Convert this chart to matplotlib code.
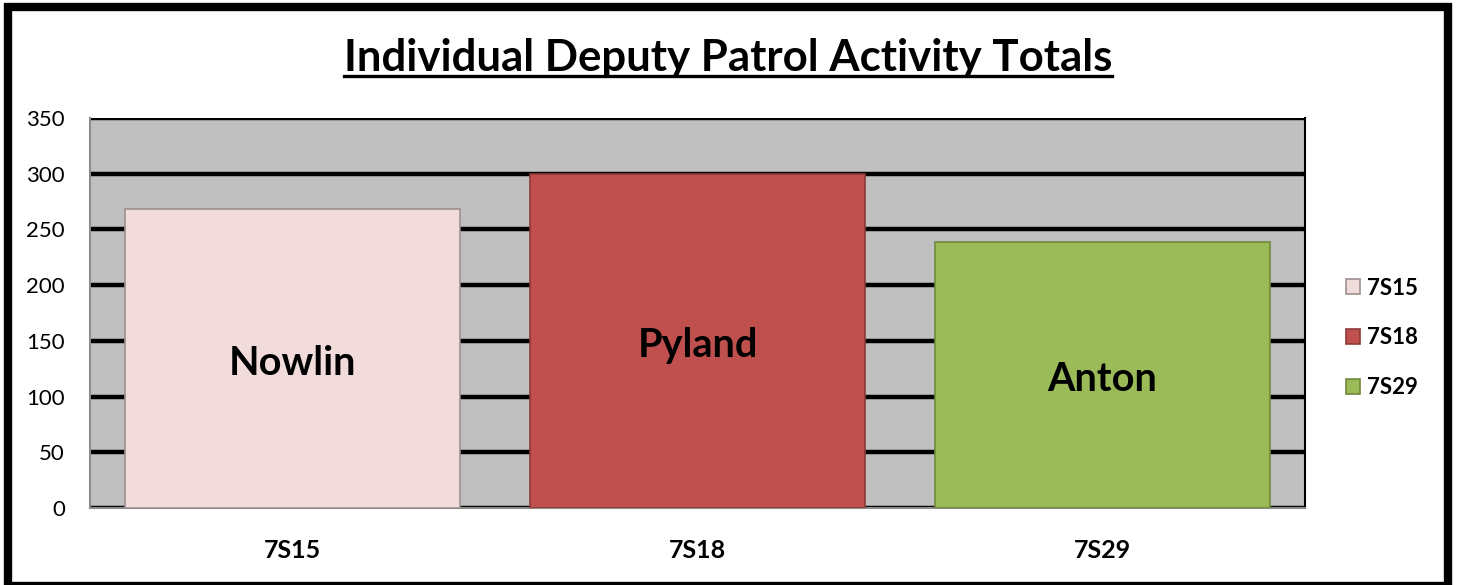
import matplotlib.pyplot as plt
from matplotlib.patches import Rectangle
from matplotlib.lines import Line2D

# data
units = ["7S15", "7S18", "7S29"]
deputies = ["Nowlin", "Pyland", "Anton"]
totals = [268, 300, 239]
fills = ["#F2DCDB", "#C0504D", "#9BBB59"]
edges = ["#9E9090", "#8E3A38", "#6F8A3C"]
yticks = [0, 50, 100, 150, 200, 250, 300, 350]

plt.rcParams['font.family'] = ['Lato', 'DejaVu Sans']

fig = plt.figure(figsize=(14.57, 5.85), dpi=100)
ax = fig.add_axes([90 / 1457, 1 - 508 / 585, 1215 / 1457, 390 / 585])
ax.set_facecolor("#C0C0C0")

for i, (u, v) in enumerate(zip(units, totals)):
    ax.bar(i, v, width=0.825, color=fills[i], edgecolor=edges[i], linewidth=1.2,
           label=u, zorder=3)
    ax.annotate(deputies[i], (i, v / 2), xytext=(0, -3.5), textcoords="offset points",
                ha="center", va="center", fontsize=28.5, fontweight="bold",
                color="black", zorder=4)

ax.set_xlim(-0.5, 2.5)
ax.set_ylim(0, 350)
ax.set_yticks(yticks)
ax.set_yticklabels([str(t) for t in yticks], fontsize=16)
ax.set_xticks(range(len(units)))
ax.set_xticklabels(units, fontsize=18, fontweight="bold")
ax.tick_params(axis="y", length=0, pad=18)
ax.tick_params(axis="x", length=0, pad=22)
ax.yaxis.grid(True, color="black", linewidth=3.2, zorder=1)
ax.set_axisbelow(True)

ax.spines["top"].set_visible(False)
ax.spines["left"].set_color("#8C8C8C")
ax.spines["left"].set_linewidth(1.5)
ax.spines["bottom"].set_color("#8C8C8C")
ax.spines["bottom"].set_linewidth(1.5)
ax.spines["right"].set_color("black")
ax.spines["right"].set_linewidth(1.5)

handles = [Rectangle((0, 0), 1, 1, facecolor=fills[i], edgecolor=edges[i], linewidth=1.2)
           for i in range(len(units))]
leg = fig.legend(handles, units, loc="center left", bbox_to_anchor=(1326 / 1457, 1 - 338 / 585),
                 frameon=False, prop={"size": 16, "weight": "bold"},
                 handlelength=0.65, handleheight=0.65, handletextpad=0.3, labelspacing=1.3)

title = fig.text(728 / 1457, 1 - 58 / 585, "Individual Deputy Patrol Activity Totals",
                 ha="center", va="center", fontsize=31.5, fontweight="bold")

# underline the title
fig.canvas.draw()
bb = title.get_window_extent().transformed(fig.transFigure.inverted())
fig.add_artist(Line2D([bb.x0, bb.x1], [bb.y0 + 0.003, bb.y0 + 0.003], color="black",
                      linewidth=2.4, transform=fig.transFigure))

# outer frame
fig.add_artist(Rectangle((8 / 1457, -1 / 585), 1440 / 1457, 579 / 585, fill=False,
                         edgecolor="black", linewidth=6, transform=fig.transFigure))

fig.savefig("out.png", dpi=100)
